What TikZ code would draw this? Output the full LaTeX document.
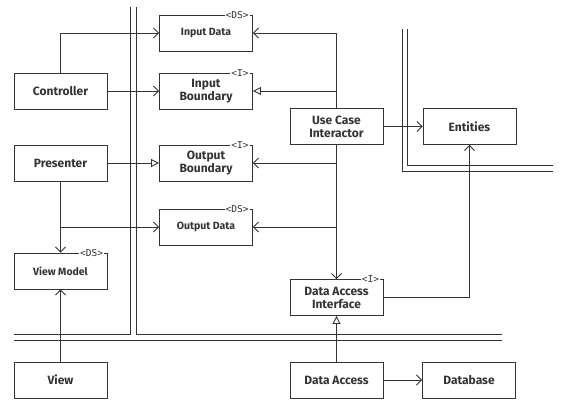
\documentclass[tikz,border=0pt]{standalone}
\usepackage{fontspec}
\setmainfont{Fira Sans}
\setmonofont{DejaVu Sans Mono}
\usetikzlibrary{arrows.meta}

\begin{document}
\begin{tikzpicture}[
    x=1pt, y=-1pt,
    line width=0.9pt,
    box/.style={draw=black!80, minimum width=93pt, minimum height=36pt, align=center, inner sep=2pt,
      text=black!80, font=\bfseries\fontsize{12}{13}\selectfont},
    small/.style={box, font=\bfseries\fontsize{10.5}{12}\selectfont},
    tag/.style={fill=white, inner sep=1pt, anchor=east, text=black!80,
      font=\ttfamily\fontsize{9.5}{10}\selectfont},
    flow/.style={draw=black!80, -{Straight Barb[length=5pt, width=10pt]}},
    impl/.style={draw=black!80, -{Triangle[open, length=8pt, width=8pt]}},
    wall/.style={draw=black!80}]
  \useasboundingbox (0,0) rectangle (578,417);
  % left column
  \node[box] (ctrl) at (60.5,91) {Controller};
  \node[box] (pres) at (60.5,163) {Presenter};
  \node[small] (vm) at (60.5,271) {View Model};
  \node[box] (view) at (60.5,380) {View};
  % middle column
  \node[small] (indata) at (206,33) {Input Data};
  \node[box] (inb) at (206,91) {Input\\Boundary};
  \node[box] (outb) at (206,163) {Output\\Boundary};
  \node[small] (outdata) at (206,227) {Output Data};
  \node[box] (uci) at (336.5,126.5) {Use Case\\Interactor};
  \node[box] (dai) at (336.5,297.5) {Data Access\\Interface};
  \node[box] (da) at (336.5,380) {Data Access};
  % right column
  \node[box] (ent) at (469.5,126.5) {Entities};
  \node[box] (db) at (469,380) {Database};
  % stereotypes
  \node[tag] (indata-t) at ([xshift=-3pt]indata.north east) {<DS>};
  \node[tag] (inb-t) at ([xshift=-3pt]inb.north east) {<I>};
  \node[tag] (outb-t) at ([xshift=-3pt]outb.north east) {<I>};
  \node[tag] (outdata-t) at ([xshift=-3pt]outdata.north east) {<DS>};
  \node[tag] (vm-t) at ([xshift=-3pt]vm.north east) {<DS>};
  \node[tag] (dai-t) at ([xshift=-3pt]dai.north east) {<I>};
  % boundaries
  \draw[wall] (130,7) -- (130,334) -- (14,334);
  \draw[wall] (136,7) -- (136,334) -- (502,334);
  \draw[wall] (14,340) -- (502,340);
  \draw[wall] (402,29) -- (402,171) -- (553,171);
  \draw[wall] (407,29) -- (407,165) -- (553,165);
  % connectors
  \coordinate (uci-in) at (uci.north |- inb.east);
  \coordinate (uci-ob) at (uci.south |- outb.east);
  \coordinate (uci-od) at (uci.south |- outdata.east);
  \coordinate (pres-od) at (pres.south |- outdata.west);
  \draw[flow] (ctrl.north) |- (indata.west);
  \draw[flow] (ctrl) -- (inb);
  \draw[impl] (pres) -- (outb);
  \draw[flow] (pres) -- (vm);
  \draw[flow] (pres-od) -- (outdata.west);
  \draw[flow] (view) -- (vm);
  \draw[flow] (uci.north) |- (indata.east);
  \draw[impl] (uci-in) -- (inb.east);
  \draw[flow] (uci) -- (dai);
  \draw[flow] (uci-ob) -- (outb.east);
  \draw[flow] (uci-od) -- (outdata.east);
  \draw[flow] (uci) -- (ent);
  \draw[flow] (dai.east) -| (ent.south);
  \draw[impl] (da) -- (dai);
  \draw[flow] (da) -- (db);
\end{tikzpicture}
\end{document}
